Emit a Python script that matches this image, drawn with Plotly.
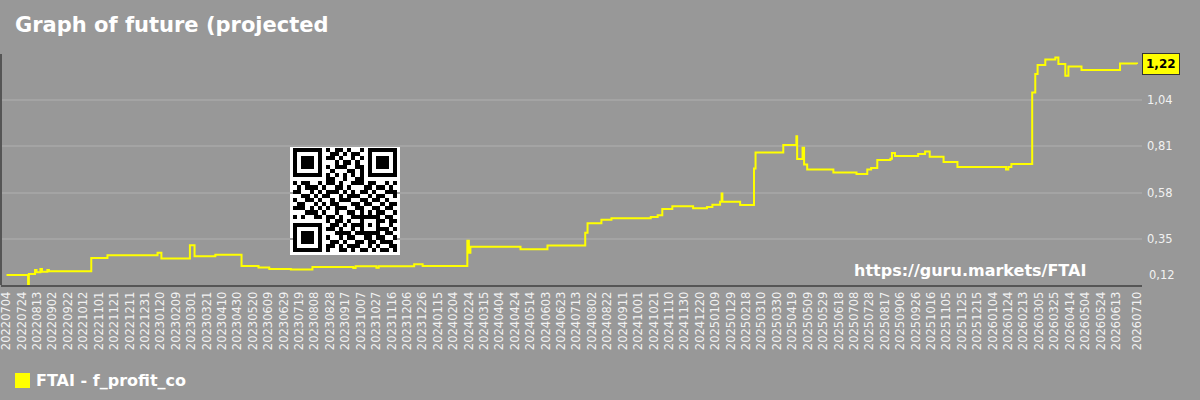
import pandas as pd
import plotly.graph_objects as go

# ---------------- data ----------------
dates = [
    "2022-07-04", "2022-08-01", "2022-08-02", "2022-08-10", "2022-08-12", "2022-08-17",
    "2022-08-19", "2022-08-26", "2022-08-28", "2022-10-22", "2022-11-12", "2023-01-16",
    "2023-01-21", "2023-02-27", "2023-03-05", "2023-04-01", "2023-05-05", "2023-05-27",
    "2023-06-10", "2023-07-08", "2023-08-05", "2023-09-27", "2023-09-30", "2023-10-27",
    "2023-10-30", "2023-12-15", "2023-12-26", "2024-02-22", "2024-02-24", "2024-02-26",
    "2024-05-01", "2024-06-05", "2024-07-24", "2024-07-27", "2024-08-14", "2024-08-27",
    "2024-10-17", "2024-10-26", "2024-11-01", "2024-11-14", "2024-12-11", "2024-12-29",
    "2025-01-05", "2025-01-15", "2025-01-17", "2025-01-18", "2025-02-10", "2025-02-28",
    "2025-03-02", "2025-04-07", "2025-04-24", "2025-04-25", "2025-05-02", "2025-05-04",
    "2025-05-08", "2025-06-11", "2025-07-11", "2025-07-25", "2025-07-30", "2025-08-07",
    "2025-08-24", "2025-08-26", "2025-08-30", "2025-09-29", "2025-10-08", "2025-10-14",
    "2025-11-01", "2025-11-19", "2026-01-21", "2026-01-24", "2026-01-28", "2026-02-24",
    "2026-02-28", "2026-03-03", "2026-03-13", "2026-03-26", "2026-03-30", "2026-04-08",
    "2026-04-12", "2026-04-29", "2026-06-18", "2026-07-10",
]
values = [
    0.170, 0.110, 0.175, 0.195, 0.183, 0.200,
    0.186, 0.195, 0.188, 0.255, 0.268, 0.280,
    0.252, 0.318, 0.263, 0.270, 0.215, 0.207,
    0.200, 0.197, 0.210, 0.205, 0.213, 0.206,
    0.213, 0.223, 0.215, 0.340, 0.280, 0.310,
    0.298, 0.317, 0.380, 0.428, 0.445, 0.452,
    0.458, 0.467, 0.498, 0.512, 0.502, 0.508,
    0.520, 0.535, 0.575, 0.535, 0.518, 0.700,
    0.780, 0.817, 0.860, 0.747, 0.803, 0.720,
    0.695, 0.680, 0.673, 0.695, 0.702, 0.742,
    0.748, 0.777, 0.762, 0.772, 0.785, 0.758,
    0.732, 0.708, 0.695, 0.708, 0.723, 1.078,
    1.170, 1.215, 1.242, 1.253, 1.220, 1.162,
    1.208, 1.190, 1.223, 1.220,
]

tick_labels = [
    "20220704", "20220724", "20220813", "20220902", "20220922", "20221012", "20221101",
    "20221121", "20221211", "20221231", "20230120", "20230209", "20230301", "20230321",
    "20230410", "20230430", "20230520", "20230609", "20230629", "20230719", "20230808",
    "20230828", "20230917", "20231007", "20231027", "20231116", "20231206", "20231226",
    "20240115", "20240204", "20240224", "20240315", "20240404", "20240424", "20240514",
    "20240603", "20240623", "20240713", "20240802", "20240822", "20240911", "20241001",
    "20241021", "20241110", "20241130", "20241220", "20250109", "20250129", "20250218",
    "20250310", "20250330", "20250419", "20250509", "20250529", "20250618", "20250708",
    "20250728", "20250817", "20250906", "20250926", "20251016", "20251105", "20251125",
    "20251215", "20260104", "20260124", "20260213", "20260305", "20260325", "20260414",
    "20260504", "20260524", "20260613", "20260710",
]
y_tickvals = [0.35, 0.58, 0.81, 1.04, 1.27]
y_ticktext = ["0,35", "0,58", "0,81", "1,04", ""]
bottom_label = "0,12"
last_label = "1,22"
series_name = "FTAI - f_profit_co"
title_text = "Graph of future (projected"
watermark = "https://guru.markets/FTAI"

qr_rows = [
    "1111111010110100101111111",
    "1000001001101011001000001",
    "1011101011010010101011101",
    "1011101000101101001011101",
    "1011101010111001101011101",
    "1000001001000110101000001",
    "1111111010101010101111111",
    "0000000011001001100000000",
    "1011001011010011101100101",
    "0101110100110100011011010",
    "1100101011101010110100111",
    "0011010110010111001011001",
    "1001101001011100110110100",
    "0110010101100011011001011",
    "1110101010111001100110110",
    "0001110100100110101011001",
    "1010011011010011111110110",
    "0000000010110100100011011",
    "1111111001101011101010010",
    "1000001011010010100011101",
    "1011101000111101111110110",
    "1011101010010110011011001",
    "1011101001101001101101110",
    "1000001011010111001010011",
    "1111111010011010110101101",
]

# ---------------- figure ----------------
BG = "#989898"
TXT = "#f2f2f2"
W, H = 1200, 400
ML, MR, MT, MB = 1, 58, 54, 115
PW = W - ML - MR
PH = H - MT - MB


def px_x(px):
    return (px - ML) / PW


def px_y(py):
    return (H - MB - py) / PH


fig = go.Figure()
fig.add_trace(go.Scatter(
    x=pd.to_datetime(dates), y=values, mode="lines", line_shape="hv",
    line=dict(color="#ffff00", width=2), name=series_name, showlegend=False,
    hoverinfo="skip",
))

qr_z = [[int(c) for c in row] for row in qr_rows]
fig.add_trace(go.Heatmap(
    z=qr_z, xaxis="x2", yaxis="y2", zmin=0, zmax=1,
    colorscale=[[0, "#ffffff"], [1, "#000000"]], showscale=False, hoverinfo="skip",
))

tickvals = pd.to_datetime(tick_labels, format="%Y%m%d")

fig.update_layout(
    width=W, height=H,
    margin=dict(l=ML, r=MR, t=MT, b=MB, autoexpand=False),
    paper_bgcolor=BG, plot_bgcolor=BG,
    font=dict(family="DejaVu Sans", color=TXT),
    title=dict(text="<b>" + title_text + "</b>", font=dict(size=21, color="#ffffff"),
               xref="container", x=15 / W, xanchor="left",
               yref="container", y=1 - 25 / H, yanchor="middle"),
    showlegend=False,
    xaxis=dict(
        type="date", range=["2022-06-26 20:30", "2026-07-16 12:00"],
        tickvals=tickvals, ticktext=tick_labels, tickangle=-90,
        tickfont=dict(size=11.5, color=TXT), showgrid=False, zeroline=False,
        showline=True, linecolor="#555555", linewidth=2, ticks="",
        ticklabeloverflow="allow", automargin=False,
    ),
    yaxis=dict(
        side="right", range=[0.12, 1.27], tickvals=y_tickvals, ticktext=y_ticktext,
        tickfont=dict(size=11.5, color=TXT), showgrid=True, gridcolor="#a4a4a4",
        gridwidth=2, zeroline=False, showline=False, ticks="", ticklabelstandoff=4,
        automargin=False,
    ),
    xaxis2=dict(domain=[px_x(293), px_x(397)], anchor="y2", visible=False,
                range=[-0.5, 24.5]),
    yaxis2=dict(domain=[px_y(252), px_y(148)], anchor="x2", visible=False,
                range=[24.5, -0.5]),
    shapes=[
        dict(type="rect", xref="paper", yref="paper", x0=px_x(290), x1=px_x(400),
             y0=px_y(255), y1=px_y(145), fillcolor="#ffffff", line=dict(width=0),
             layer="below"),
        dict(type="line", xref="paper", yref="paper", x0=px_x(1), x1=px_x(1),
             y0=0, y1=1, line=dict(color="#555555", width=2)),
        dict(type="rect", xref="paper", yref="paper", x0=px_x(15), x1=px_x(30),
             y0=px_y(388), y1=px_y(373), fillcolor="#ffff00", line=dict(width=0)),
    ],
    annotations=[
        dict(text="<b>" + watermark + "</b>", xref="paper", yref="paper",
             x=px_x(970), y=px_y(270), xanchor="center", yanchor="middle",
             showarrow=False, font=dict(size=16, color="#ffffff")),
        dict(text="<b>" + last_label + "</b>", xref="paper", yref="y",
             x=px_x(1161), y=values[-1], xanchor="center", yanchor="middle",
             showarrow=False, bgcolor="#ffff00", bordercolor="#333333",
             borderwidth=1, borderpad=3, font=dict(size=12, color="#000000")),
        dict(text=bottom_label, xref="paper", yref="y", x=px_x(1147), y=0.12,
             yshift=10, xanchor="left", yanchor="middle", showarrow=False,
             font=dict(size=11.5, color=TXT)),
        dict(text="<b>" + series_name + "</b>", xref="paper", yref="paper",
             x=px_x(34), y=px_y(380.5), xanchor="left", yanchor="middle",
             showarrow=False, font=dict(size=16, color="#ffffff")),
    ],
)

fig.write_html("out.html")
